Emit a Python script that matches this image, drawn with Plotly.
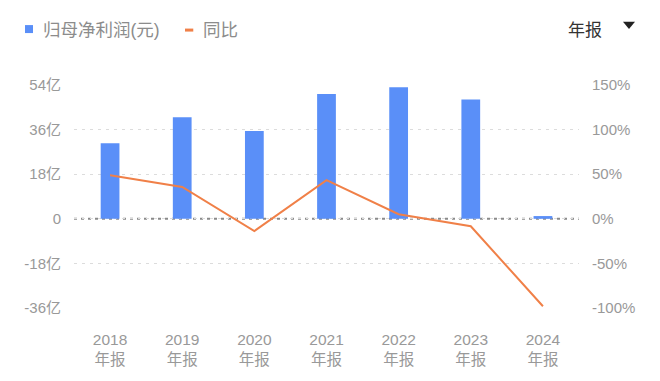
import plotly.graph_objects as go

categories = ["2018<br>年报", "2019<br>年报", "2020<br>年报", "2021<br>年报", "2022<br>年报", "2023<br>年报", "2024<br>年报"]
net_profit = [30.5, 41.0, 35.4, 50.4, 53.1, 48.1, 1.1]          # 亿元
yoy_pct = [48.9, 35.7, -13.7, 43.3, 5.1, -8.4, -98.0]             # %
left_tickvals = [-36, -18, 0, 18, 36, 54]
left_ticktext = ["-36亿", "-18亿", "0", "18亿", "36亿", "54亿"]
right_tickvals = [-100, -50, 0, 50, 100, 150]
right_ticktext = ["-100%", "-50%", "0%", "50%", "100%", "150%"]
series_names = ["归母净利润(元)", "同比"]

BLUE = "#5A8FF8"
ORANGE = "#F08048"
GRAY = "#999999"
FONT = "Liberation Sans, Noto Sans CJK SC, sans-serif"

fig = go.Figure()
fig.add_trace(go.Bar(x=categories, y=net_profit, name=series_names[0],
                     marker=dict(color=BLUE, line=dict(width=0)), width=0.26, yaxis="y"))
fig.add_trace(go.Scatter(x=categories, y=yoy_pct, name=series_names[1], mode="lines",
                         line=dict(color=ORANGE, width=2), yaxis="y2"))

fig.update_layout(
    width=660, height=381,
    margin=dict(l=74, r=81, t=85, b=73, autoexpand=False),
    paper_bgcolor="white", plot_bgcolor="white",
    font=dict(family=FONT, color=GRAY, size=15),
    showlegend=False,
    xaxis=dict(type="category", range=[-0.5, 6.5], showgrid=False, zeroline=False,
               showline=False, ticks="", tickfont=dict(size=15.5, color=GRAY),
               ticklabelstandoff=20),
    yaxis=dict(range=[-36, 54], tickvals=left_tickvals, ticktext=left_ticktext,
               showgrid=True, gridcolor="#dcdcdc", griddash="3px,5px", gridwidth=1,
               zeroline=False, showline=False, ticks="",
               tickfont=dict(size=15, color=GRAY), ticklabelstandoff=12),
    yaxis2=dict(range=[-100, 150], tickvals=right_tickvals, ticktext=right_ticktext,
                overlaying="y", side="right", showgrid=False, zeroline=False,
                showline=False, ticks="", tickfont=dict(size=15, color=GRAY),
                ticklabelstandoff=12),
    shapes=[
        dict(type="line", xref="paper", yref="y", x0=0, x1=1, y0=0, y1=0,
             line=dict(color="#8a8a8a", width=2, dash="3px,4px"), layer="below"),
        # legend swatches
        dict(type="rect", xref="paper", yref="paper", x0=-0.097, x1=-0.0812,
             y0=1.2329, y1=1.2687, fillcolor=BLUE, line=dict(width=0)),
        dict(type="line", xref="paper", yref="paper", x0=0.2198, x1=0.2362,
             y0=1.2463, y1=1.2463, line=dict(color=ORANGE, width=3)),
        # dropdown triangle
        dict(type="path", xref="paper", yref="paper",
             path="M 1.0871 1.2836 L 1.1109 1.2836 L 1.099 1.2508 Z",
             fillcolor="#222222", line=dict(width=0)),
    ],
    annotations=[
        dict(text=series_names[0], xref="paper", yref="paper", x=-0.066, y=1.2463,
             xanchor="left", yanchor="middle", showarrow=False,
             font=dict(size=17.5, color="#8c8c8c")),
        dict(text=series_names[1], xref="paper", yref="paper", x=0.252, y=1.2463,
             xanchor="left", yanchor="middle", showarrow=False,
             font=dict(size=17.5, color="#8c8c8c")),
        dict(text="年报", xref="paper", yref="paper", x=0.975, y=1.2463,
             xanchor="left", yanchor="middle", showarrow=False,
             font=dict(size=17, color="#333333")),
    ],
)

fig.write_html("out.html", config={"displayModeBar": False},
               post_script="document.body.style.margin='0';document.body.style.padding='0';")
